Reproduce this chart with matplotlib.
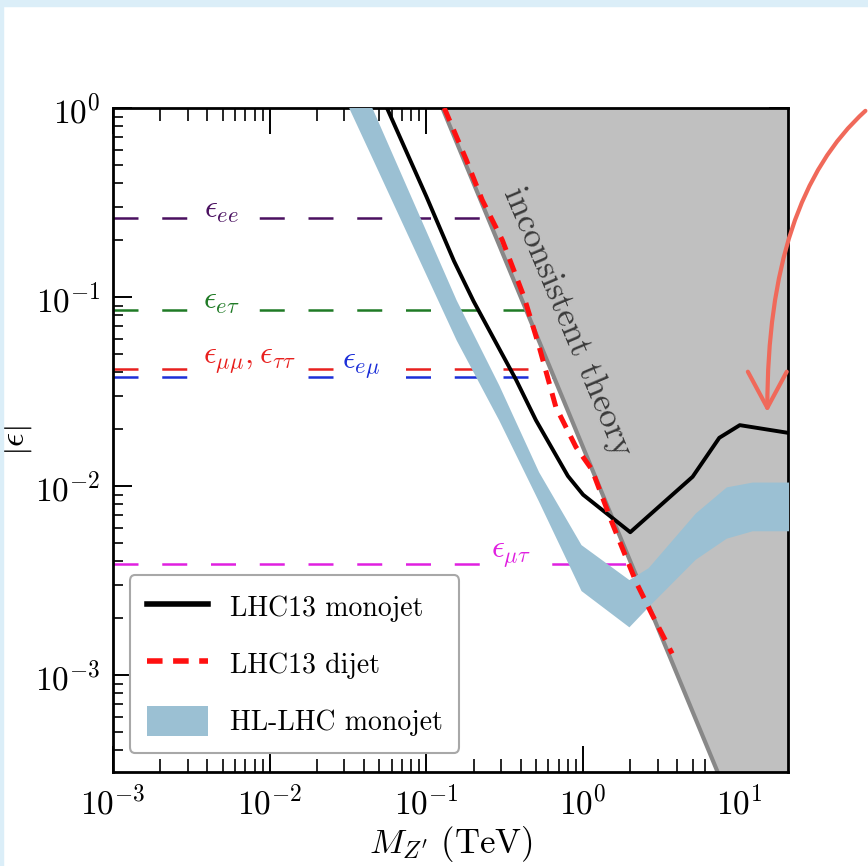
import numpy as np
import matplotlib.pyplot as plt
from matplotlib.lines import Line2D
from matplotlib.patches import Patch, Rectangle

plt.rcParams['mathtext.fontset'] = 'cm'
plt.rcParams['font.family'] = 'cmr10'
plt.rcParams['axes.formatter.use_mathtext'] = True
plt.rcParams['axes.unicode_minus'] = False

# LHC13 monojet limit (M in TeV, |eps|)
mono_M = [0.056, 0.1, 0.15, 0.2, 0.3, 0.374, 0.5, 0.8, 1.0, 2.0, 5.0, 7.4, 10.0, 20.5]
mono_eps = [1.0, 0.34, 0.155, 0.095, 0.051, 0.0364, 0.0223, 0.0113, 0.009, 0.0057, 0.0112, 0.018, 0.021, 0.0191]

# LHC13 dijet limit
dijet_M = [0.13, 0.18, 0.227, 0.305, 0.42, 0.525, 0.67, 0.9, 1.14, 1.53, 2.18, 2.75, 3.7]
dijet_eps = [1.0, 0.53, 0.326, 0.2, 0.1, 0.0544, 0.0262, 0.0161, 0.0122, 0.0064, 0.0031, 0.0021, 0.0013]

# HL-LHC monojet band
hl_M = [0.032, 0.045, 0.155, 0.29, 0.52, 0.97, 1.96, 2.6, 5.2, 8.2, 12.0, 20.5]
hl_hi = [1.84, 1.0, 0.0964, 0.0342, 0.0119, 0.0049, 0.0032, 0.0037, 0.0072, 0.0099, 0.0105, 0.0105]
hl_lo = [1.0, 0.544, 0.0592, 0.0223, 0.0083, 0.0028, 0.0018, 0.0023, 0.0041, 0.0053, 0.0058, 0.0058]

# edge of the "inconsistent theory" region
bound_M = [0.1265, 12.65]
bound_eps = [1.0, 1.0e-4]

# NSI couplings (horizontal dashed lines)
nsi_labels = [r'$\epsilon_{ee}$', r'$\epsilon_{e\tau}$', r'$\epsilon_{\mu\mu},\epsilon_{\tau\tau}$',
              r'$\epsilon_{e\mu}$', r'$\epsilon_{\mu\tau}$']
nsi_eps = [0.262, 0.0854, 0.0416, 0.0377, 0.00386]
nsi_colors = ['#4a1060', '#1f7a25', '#e8201e', '#1c2fd8', '#e020e0']
nsi_label_pos = [(0.00494, 0.285), (0.0049, 0.094), (0.0074, 0.0453), (0.0385, 0.0426), (0.347, 0.0043)]

fig = plt.figure(figsize=(8.68, 8.66), dpi=100)
ax = fig.add_axes([0.1302, 0.1085, 0.7776, 0.7668])
ax.set_xscale('log')
ax.set_yscale('log')

for e, c in zip(nsi_eps, nsi_colors):
    ax.plot([1e-3, 30], [e, e], color=c, lw=1.8, dashes=(10, 9.5), zorder=1)
for lab, c, (px, py) in zip(nsi_labels, nsi_colors, nsi_label_pos):
    ax.text(px, py, lab, color=c, fontsize=23, ha='center', va='center', zorder=1.5,
            bbox=dict(facecolor='white', edgecolor='none', pad=5))

# gray excluded region
ax.fill([bound_M[0], 100, 100, bound_M[1]],
        [bound_eps[0], bound_eps[0], bound_eps[1], bound_eps[1]],
        color='#c0c0c0', lw=0, zorder=2)
ax.plot(bound_M, bound_eps, color='#888888', lw=3, zorder=2.5)
ax.text(0.80, 0.0738, 'inconsistent theory', rotation=-67.2, rotation_mode='anchor',
        ha='center', va='center', fontsize=25, color='#3a3a3a', zorder=2.6)

ax.fill_between(hl_M, hl_lo, hl_hi, color='#9bc0d3', lw=0, zorder=3)
ax.plot(mono_M, mono_eps, color='black', lw=2.8, zorder=4)
ax.plot(dijet_M, dijet_eps, color='#ff1010', lw=3.6, dashes=(2.8, 1.9), zorder=5)

ax.set_xlim(1e-3, 20.3)
ax.set_ylim(3.07e-4, 1.0)

ax.tick_params(which='both', direction='in', top=True, right=True, labelsize=24, pad=9)
ax.tick_params(axis='x', which='major', length=19, width=1.4)
ax.tick_params(axis='x', which='minor', length=9.5, width=1.2)
ax.tick_params(axis='y', which='major', length=13.5, width=1.4)
ax.tick_params(axis='y', which='minor', length=7, width=1.2)
for s in ax.spines.values():
    s.set_linewidth(2)

ax.set_xlabel(r"$M_{Z^\prime}\ (\mathrm{TeV})$", fontsize=25, labelpad=3)
ax.set_ylabel(r'$|\epsilon|$', fontsize=25)
ax.yaxis.set_label_coords(-0.117, 0.5)

handles = [Line2D([], [], color='black', lw=4),
           Line2D([], [], color='#ff1010', lw=4, dashes=(2.8, 1.9)),
           Patch(facecolor='#9bc0d3', edgecolor='none')]
leg = ax.legend(handles, ['LHC13 monojet', 'LHC13 dijet', 'HL-LHC monojet'],
                loc='lower left', bbox_to_anchor=(0.025, 0.029), borderaxespad=0,
                prop={'family': 'cmr10', 'size': 20}, handlelength=2.2, handleheight=1.3,
                labelspacing=0.95, borderpad=0.6, handletextpad=0.8,
                fancybox=True, framealpha=1, edgecolor='#a8a8a8')
leg.get_frame().set_linewidth(1.5)
leg.set_zorder(10)

# light blue page border on top and left
fig.patches.append(Rectangle((0, 1 - 6 / 866), 1, 6 / 866, transform=fig.transFigure,
                             color='#dbeef8', zorder=0))
fig.patches.append(Rectangle((0, 0), 3 / 868, 1, transform=fig.transFigure,
                             color='#dbeef8', zorder=0))

# hand-drawn red arrow
ax.annotate('', xy=(0.884, 0.524), xycoords='figure fraction',
            xytext=(0.997, 0.872), textcoords='figure fraction',
            arrowprops=dict(arrowstyle='->,head_length=2.6,head_width=1.4', color='#f0695a',
                            lw=3, connectionstyle='angle3,angleA=42,angleB=90',
                            shrinkA=0, shrinkB=0, mutation_scale=10),
            annotation_clip=False)

fig.savefig('out.png', dpi=100)
